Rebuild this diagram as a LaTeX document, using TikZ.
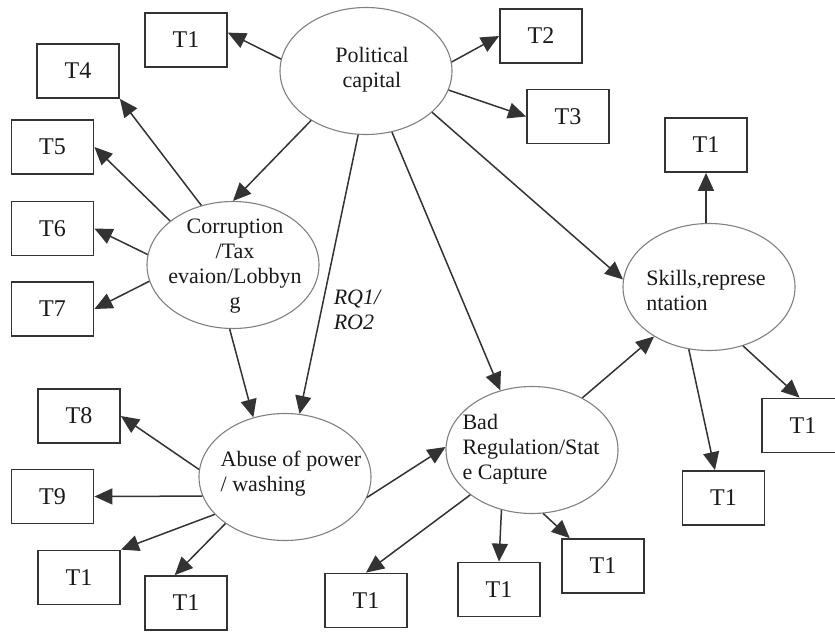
\documentclass[tikz,border=0pt]{standalone}
\usepackage{fontspec}
\setmainfont{Liberation Serif}
\usetikzlibrary{arrows.meta,shapes.geometric}
\begin{document}
\begin{tikzpicture}[x=1pt,y=-1pt,
  tbox/.style={draw=black!80,line width=1.8pt,minimum width=82pt,minimum height=54pt,inner sep=0pt,
    font=\fontsize{24}{25}\selectfont,text=black!90},
  oval/.style={ellipse,draw=black!50,line width=1.1pt,minimum width=172pt,minimum height=127pt,inner sep=0pt},
  otext/.style={inner sep=0pt,font=\fontsize{22}{25}\selectfont,text=black!90},
  arr/.style={draw=black!80,line width=1.5pt,-{Triangle[length=18pt,width=16pt]}}]
\useasboundingbox (0,0) rectangle (835,632);
\clip (0,0) rectangle (835,632);

% ellipses
\node[oval] (pc)   at (366,71)  {};
\node[oval] (corr) at (233,265) {};
\node[oval] (ab)   at (285,477) {};
\node[oval] (bad)  at (532,450) {};
\node[oval] (sk)   at (709,287) {};

\node[otext,align=center] (pctext)   at (372,70)  {Political\\capital};
\node[otext,align=center] (corrtext) at (235,266) {Corruption\\/Tax\\evaion/Lobbyn\\g};
\node[otext,align=left]   (abtext)   at (291,474) {Abuse of power\\/ washing};
\node[otext,align=left]   (badtext)  at (531,449) {Bad\\Regulation/Stat\\e Capture};
\node[otext,align=left]   (sktext)   at (706,290) {Skills,represe\\ntation};

% boxes
\node[tbox] (t1a) at (186,40)    {T1};
\node[tbox] (t2)  at (541,36)    {T2};
\node[tbox] (t3)  at (568,116.5) {T3};
\node[tbox] (t4)  at (78,71)     {T4};
\node[tbox] (t5)  at (52.5,147)  {T5};
\node[tbox] (t6)  at (52.5,228.5){T6};
\node[tbox] (t7)  at (52.5,309)  {T7};
\node[tbox] (t8)  at (79,416)    {T8};
\node[tbox] (t9)  at (52.5,496.5){T9};
\node[tbox] (t1lb) at (79,577.5) {T1};
\node[tbox] (t1b) at (186,603)   {T1};
\node[tbox] (t1c) at (366,600.5) {T1};
\node[tbox] (t1d) at (499,589.5) {T1};
\node[tbox] (t1e) at (603,566)   {T1};
\node[tbox] (t1f) at (706,145)   {T1};
\node[tbox] (t1g) at (803,425.5) {T1};
\node[tbox] (t1h) at (723.5,498) {T1};

% label
\node[otext,font=\itshape\fontsize{22}{25}\selectfont,align=left] (rq) at (357,310) {RQ1/\\RO2};

% political capital
\draw[arr] (pc.172.7) -- (t1a.10);
\draw[arr] (pc.6) -- (t2.west);
\draw[arr] (pc.-13) -- (t3.west);
\draw[arr] (pc.222) -- (corr.90);
\draw[arr] (pc.263) -- (ab.77);
\draw[arr] (pc.293.5) -- (bad.118);
\draw[arr] (pc.328.5) -- (sk.175);

% corruption
\draw[arr] (corr.118) -- (t4.south east);
\draw[arr] (corr.145) -- (t5.east);
\draw[arr] (corr.173) -- (t6.east);
\draw[arr] (corr.191) -- (t7.east);
\draw[arr] (corr.267) -- (ab.118);

% abuse
\draw[arr] (ab.175) -- (t8.east);
\draw[arr] (ab.193) -- (t9.east);
\draw[arr] (ab.208) -- (t1lb.north east);
\draw[arr] (ab.218.5) -- (t1b.112);
\draw[arr] (ab.346) -- (bad.178);

% bad regulation
\draw[arr] (bad.216) -- (t1c.north);
\draw[arr] (bad.243) -- (t1d.north);
\draw[arr] (bad.280) -- (t1e.140);
\draw[arr] (bad.46) -- (sk.222);

% skills
\draw[arr] (sk.north -| t1f.south) -- (t1f.south);
\draw[arr] (sk.300) -- (t1g.97);
\draw[arr] (sk.252) -- (t1h.107);
\end{tikzpicture}
\end{document}
